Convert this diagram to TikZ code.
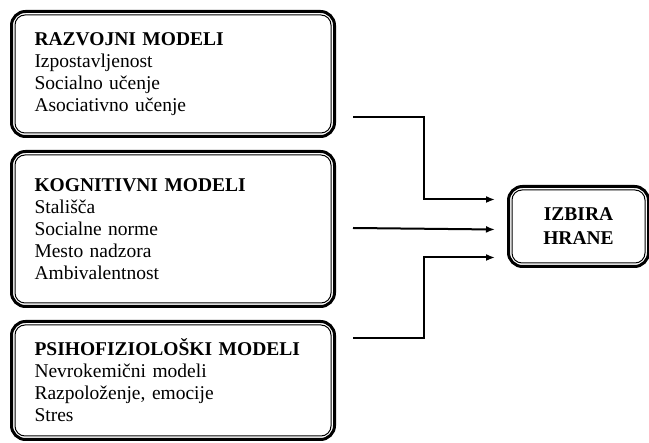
\documentclass[tikz,border=0pt]{standalone}
\usepackage{fontspec}
\setmainfont{Liberation Serif}
\usetikzlibrary{arrows.meta,calc}
\begin{document}
\begin{tikzpicture}[x=1pt,y=-1pt,
  outerbox/.style={draw=black, line width=3pt, rounded corners=14pt, anchor=north west,
    align=left, inner xsep=23pt, inner ysep=0pt, font=\fontsize{19.5}{22}\selectfont},
  innerbox/.style={draw=black, line width=1pt, rounded corners=10pt},
  arr/.style={draw=black, line width=2pt, -{Latex[length=9pt,width=7pt]}}]
\useasboundingbox (0,0) rectangle (649,443);
\node[outerbox, minimum width=323pt, minimum height=125pt, text width=277pt] (b1) at (10,10)
  {\textbf{RAZVOJNI MODELI}\\Izpostavljenost\\Socialno učenje\\Asociativno učenje};
\node[outerbox, minimum width=323pt, minimum height=155pt, text width=277pt] (b2) at (10,150)
  {\textbf{KOGNITIVNI MODELI}\\Stališča\\Socialne norme\\Mesto nadzora\\Ambivalentnost};
\node[outerbox, minimum width=323pt, minimum height=118pt, text width=277pt] (b3) at (10,320)
  {\textbf{PSIHOFIZIOLOŠKI MODELI}\\Nevrokemični modeli\\Razpoloženje, emocije\\Stres};
\node[outerbox, align=center, inner xsep=0pt, minimum width=140pt, minimum height=80pt,
  font=\fontsize{19.5}{24}\selectfont] (iz) at (507,185)
  {\textbf{IZBIRA}\\\textbf{HRANE}};
\foreach \n in {b1,b2,b3,iz}
  \draw[innerbox] ($(\n.north west)+(5,5)$) rectangle ($(\n.south east)+(-5,-5)$);
\coordinate (s1) at (353,117);
\coordinate (s2) at (353,228);
\coordinate (s3) at (353,338);
\coordinate (e1) at ($(iz.west)+(-12,-27)$);
\coordinate (e2) at ($(iz.west)+(-12,3)$);
\coordinate (e3) at ($(iz.west)+(-12,31)$);
\draw[arr] (s1) -| ($(e1)+(-71,0)$) -- (e1);
\draw[arr] (s2) -- (e2);
\draw[arr] (s3) -| ($(e3)+(-71,0)$) -- (e3);
\end{tikzpicture}
\end{document}
